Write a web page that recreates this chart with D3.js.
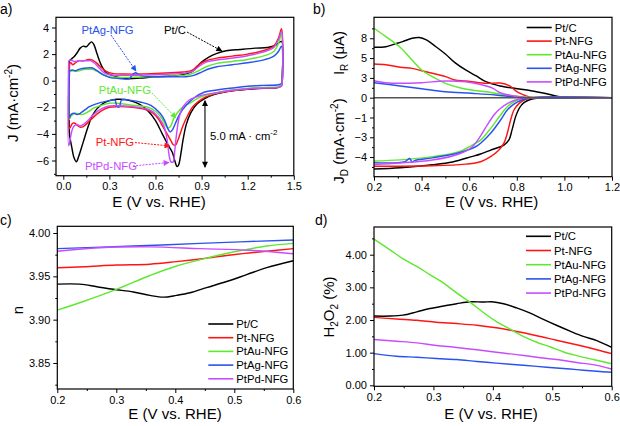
<!DOCTYPE html>
<html><head><meta charset="utf-8">
<script src="https://cdn.jsdelivr.net/npm/d3@7"></script>
<style>body{margin:0;background:#fff} svg{display:block} text{font-family:"Liberation Sans",Arial,sans-serif}</style>
</head><body><svg id="c" width="620" height="426"></svg>
<script>
const seriesNames = ["Pt/C","Pt-NFG","PtAu-NFG","PtAg-NFG","PtPd-NFG"];
const seriesColors = ["#000000","#ff1414","#5ee830","#2a52ee","#c84cff"];

// ---- a) cyclic voltammograms [E (V), J (mA cm-2)]
const cvPtC = [[0.04,1.5],[0.05,1.6],[0.07,1.8],[0.09,2.1],[0.11,2.45],[0.13,2.6],[0.15,2.55],[0.17,2.8],[0.185,2.92],[0.2,2.7],[0.22,2.0],[0.25,1.1],[0.28,0.6],[0.32,0.4],[0.36,0.25],[0.42,0.15],[0.5,0.2],[0.6,0.3],[0.7,0.35],[0.78,0.45],[0.84,0.7],[0.9,1.4],[0.95,1.8],[1.0,2.05],[1.06,2.25],[1.15,2.35],[1.25,2.45],[1.33,2.5],[1.38,2.65],[1.42,2.95],[1.425,0.5],[1.42,-0.3],[1.4,-0.5],[1.35,-0.55],[1.25,-0.6],[1.15,-0.7],[1.05,-0.85],[0.98,-1.05],[0.92,-1.35],[0.87,-1.75],[0.83,-2.4],[0.8,-3.3],[0.78,-4.4],[0.765,-5.5],[0.75,-6.35],[0.74,-6.45],[0.725,-6.0],[0.71,-5.4],[0.68,-4.8],[0.64,-3.9],[0.6,-3.0],[0.55,-2.25],[0.5,-1.8],[0.45,-1.55],[0.4,-1.42],[0.35,-1.4],[0.3,-1.5],[0.26,-1.7],[0.22,-2.1],[0.19,-2.6],[0.16,-3.5],[0.13,-4.6],[0.1,-5.7],[0.085,-6.1],[0.07,-5.8],[0.055,-5.0],[0.045,-4.4],[0.04,-4.0],[0.04,1.5]];
const cvPtNFG = [[0.04,1.3],[0.05,1.35],[0.06,1.2],[0.08,1.35],[0.1,1.5],[0.13,1.5],[0.15,1.55],[0.17,1.6],[0.19,1.55],[0.22,1.3],[0.25,0.95],[0.28,0.7],[0.32,0.55],[0.4,0.5],[0.5,0.5],[0.6,0.55],[0.7,0.6],[0.78,0.65],[0.84,0.8],[0.88,1.2],[0.93,1.5],[1.0,1.7],[1.1,1.85],[1.2,2.0],[1.3,2.25],[1.37,2.6],[1.4,3.2],[1.42,3.9],[1.425,0],[1.42,-0.4],[1.4,-0.5],[1.3,-0.55],[1.2,-0.62],[1.1,-0.75],[1.0,-0.95],[0.93,-1.2],[0.88,-1.55],[0.84,-2.0],[0.81,-2.6],[0.78,-3.35],[0.76,-4.0],[0.745,-4.5],[0.73,-4.85],[0.715,-4.8],[0.7,-4.5],[0.68,-4.1],[0.65,-3.5],[0.62,-2.9],[0.58,-2.4],[0.53,-2.15],[0.45,-2.0],[0.35,-1.95],[0.3,-2.0],[0.25,-2.25],[0.2,-2.7],[0.16,-3.15],[0.13,-3.45],[0.11,-3.5],[0.09,-3.35],[0.075,-3.2],[0.06,-3.2],[0.05,-3.4],[0.04,-3.6],[0.04,1.3]];
const cvPtAu = [[0.04,0.7],[0.06,0.75],[0.08,0.7],[0.1,0.75],[0.15,0.85],[0.19,0.85],[0.22,0.7],[0.26,0.45],[0.3,0.3],[0.4,0.25],[0.5,0.28],[0.6,0.3],[0.7,0.35],[0.78,0.4],[0.83,0.5],[0.88,0.75],[0.93,1.05],[1.0,1.3],[1.1,1.45],[1.2,1.6],[1.3,1.85],[1.37,2.2],[1.4,2.8],[1.42,3.5],[1.425,0],[1.42,-0.3],[1.4,-0.45],[1.3,-0.5],[1.2,-0.58],[1.1,-0.7],[1.0,-0.9],[0.9,-1.2],[0.82,-1.7],[0.78,-1.95],[0.74,-2.45],[0.715,-2.95],[0.7,-3.4],[0.685,-3.55],[0.67,-3.45],[0.645,-2.9],[0.6,-2.3],[0.55,-2.0],[0.45,-1.85],[0.35,-1.7],[0.3,-1.7],[0.25,-1.85],[0.2,-2.05],[0.16,-2.35],[0.12,-2.55],[0.1,-2.5],[0.08,-2.45],[0.06,-2.55],[0.045,-2.75],[0.04,-2.9],[0.04,0.7]];
const cvPtAg = [[0.04,0.75],[0.06,0.8],[0.08,0.75],[0.1,0.85],[0.15,0.95],[0.19,0.95],[0.22,0.75],[0.26,0.45],[0.3,0.25],[0.38,0.15],[0.43,0.15],[0.45,0.45],[0.47,0.6],[0.5,0.4],[0.6,0.3],[0.7,0.3],[0.8,0.3],[0.85,0.4],[0.9,0.65],[0.95,0.9],[1.0,1.05],[1.1,1.2],[1.2,1.35],[1.3,1.55],[1.37,1.85],[1.4,2.2],[1.42,2.6],[1.425,0],[1.42,-0.2],[1.4,-0.3],[1.3,-0.35],[1.2,-0.42],[1.1,-0.55],[1.0,-0.7],[0.92,-0.85],[0.85,-1.3],[0.8,-1.85],[0.76,-2.45],[0.73,-3.2],[0.71,-3.7],[0.695,-3.85],[0.68,-3.6],[0.66,-3.0],[0.63,-2.45],[0.57,-1.85],[0.5,-1.6],[0.45,-1.5],[0.38,-1.45],[0.365,-1.95],[0.35,-1.95],[0.335,-1.45],[0.3,-1.5],[0.24,-1.65],[0.2,-1.8],[0.17,-1.95],[0.14,-2.2],[0.11,-2.45],[0.09,-2.55],[0.07,-2.45],[0.055,-2.5],[0.045,-2.65],[0.04,-2.8],[0.04,0.75]];
const cvPtPd = [[0.035,1.5],[0.05,1.55],[0.07,1.45],[0.1,1.5],[0.15,1.5],[0.18,1.5],[0.2,1.35],[0.23,1.0],[0.26,0.65],[0.3,0.45],[0.4,0.4],[0.5,0.42],[0.6,0.45],[0.7,0.5],[0.78,0.55],[0.84,0.7],[0.88,1.05],[0.93,1.4],[1.0,1.55],[1.1,1.7],[1.2,1.88],[1.3,2.15],[1.37,2.5],[1.4,3.1],[1.42,3.7],[1.425,0],[1.42,-0.4],[1.4,-0.5],[1.3,-0.55],[1.2,-0.6],[1.1,-0.72],[1.0,-0.9],[0.9,-1.1],[0.82,-1.45],[0.78,-1.95],[0.755,-2.7],[0.735,-4.2],[0.725,-5.3],[0.715,-6.1],[0.7,-6.1],[0.69,-5.7],[0.675,-4.4],[0.66,-3.6],[0.64,-3.1],[0.6,-2.5],[0.55,-2.15],[0.45,-1.95],[0.35,-1.88],[0.3,-1.9],[0.25,-2.1],[0.2,-2.5],[0.16,-3.0],[0.13,-3.3],[0.11,-3.4],[0.09,-3.3],[0.07,-3.4],[0.055,-3.8],[0.045,-4.4],[0.035,-4.9],[0.035,1.5]];

// ---- b) RRDE: ring current I_R (uA) and disk current J_D (mA cm-2)
const irPtC = [[0.2,6.87],[0.25,6.95],[0.285,7.3],[0.32,7.64],[0.36,8.1],[0.39,8.2],[0.42,7.87],[0.46,6.95],[0.5,5.96],[0.54,4.78],[0.585,3.78],[0.63,2.96],[0.67,2.18],[0.7,1.87],[0.73,1.6],[0.79,1.28],[0.86,0.95],[0.93,0.5],[0.98,0.14],[1.02,0],[1.2,0]];
const irPtNFG = [[0.2,4.6],[0.25,4.5],[0.31,4.15],[0.36,4.0],[0.4,3.68],[0.445,3.33],[0.5,2.87],[0.54,2.41],[0.585,2.28],[0.64,2.05],[0.68,1.95],[0.73,2.0],[0.77,1.6],[0.8,0.82],[0.83,0.37],[0.86,0.05],[0.9,0],[1.2,0]];
const irPtAu = [[0.2,9.47],[0.25,8.32],[0.31,6.87],[0.36,5.14],[0.4,3.78],[0.445,2.87],[0.5,1.96],[0.56,1.36],[0.61,1.05],[0.67,0.82],[0.71,0.6],[0.79,0.23],[0.84,0.05],[0.88,0],[1.2,0]];
const irPtAg = [[0.2,2.05],[0.31,1.6],[0.4,1.23],[0.5,0.82],[0.61,0.6],[0.71,0.37],[0.79,0.1],[0.84,0],[1.2,0]];
const irPtPd = [[0.2,2.32],[0.25,2.05],[0.31,1.96],[0.4,2.05],[0.5,2.28],[0.585,2.18],[0.64,1.87],[0.7,1.28],[0.73,0.68],[0.79,0.23],[0.83,0.05],[0.87,0],[1.2,0]];
const jdPtC = [[0.2,-5.05],[0.31,-4.95],[0.445,-4.75],[0.53,-4.55],[0.61,-4.17],[0.648,-3.98],[0.7,-3.65],[0.746,-3.35],[0.767,-2.99],[0.78,-2.28],[0.795,-1.34],[0.81,-0.75],[0.83,-0.35],[0.86,-0.11],[0.9,-0.02],[1.0,0],[1.2,0]];
const jdPtNFG = [[0.2,-4.85],[0.445,-4.82],[0.585,-4.7],[0.648,-4.53],[0.69,-4.17],[0.725,-3.7],[0.746,-3.22],[0.76,-2.52],[0.774,-1.58],[0.788,-0.87],[0.81,-0.4],[0.837,-0.11],[0.87,0],[1.2,0]];
const jdPtAu = [[0.2,-4.48],[0.31,-4.4],[0.445,-4.17],[0.557,-3.82],[0.627,-3.22],[0.648,-3.0],[0.69,-2.17],[0.732,-1.22],[0.76,-0.64],[0.788,-0.3],[0.83,-0.05],[0.87,0],[1.2,0]];
const jdPtAg = [[0.2,-4.6],[0.33,-4.52],[0.35,-4.3],[0.36,-4.55],[0.37,-4.45],[0.445,-4.26],[0.557,-3.9],[0.627,-3.47],[0.648,-3.22],[0.69,-2.52],[0.732,-1.58],[0.76,-0.87],[0.788,-0.46],[0.816,-0.2],[0.86,0],[1.2,0]];
const jdPtPd = [[0.2,-4.72],[0.31,-4.62],[0.445,-4.41],[0.557,-3.98],[0.613,-3.47],[0.648,-2.7],[0.676,-1.93],[0.704,-1.22],[0.732,-0.75],[0.76,-0.42],[0.788,-0.2],[0.83,-0.03],[0.87,0],[1.2,0]];
const irTicks = [0, 2.7, 5.4, 8.1];
const jdTicks = [-1.4, -2.8, -4.2];

// ---- c) electron transfer number n
const nPtC = [[0.2,3.941],[0.238,3.941],[0.267,3.938],[0.295,3.935],[0.329,3.932],[0.357,3.928],[0.38,3.926],[0.402,3.928],[0.425,3.931],[0.453,3.937],[0.487,3.944],[0.521,3.952],[0.555,3.96],[0.6,3.968]];
const nPtNFG = [[0.2,3.96],[0.244,3.961],[0.3,3.963],[0.357,3.964],[0.402,3.967],[0.453,3.971],[0.498,3.975],[0.555,3.979],[0.6,3.982]];
const nPtAu = [[0.2,3.911],[0.244,3.921],[0.3,3.935],[0.357,3.951],[0.402,3.962],[0.453,3.971],[0.498,3.978],[0.555,3.985],[0.6,3.988]];
const nPtAg = [[0.2,3.982],[0.329,3.985],[0.442,3.988],[0.6,3.992]];
const nPtPd = [[0.2,3.979],[0.272,3.983],[0.357,3.984],[0.442,3.982],[0.527,3.98],[0.6,3.976]];

// ---- d) H2O2 yield (%)
const hPtC = [[0.2,2.12],[0.227,2.12],[0.249,2.15],[0.272,2.25],[0.294,2.35],[0.317,2.43],[0.339,2.5],[0.362,2.56],[0.384,2.55],[0.398,2.56],[0.418,2.5],[0.44,2.37],[0.463,2.21],[0.485,2.02],[0.507,1.84],[0.53,1.66],[0.552,1.5],[0.575,1.37],[0.6,1.16]];
const hPtNFG = [[0.2,2.08],[0.238,2.03],[0.272,1.99],[0.305,1.93],[0.339,1.89],[0.373,1.84],[0.406,1.76],[0.44,1.65],[0.474,1.52],[0.507,1.38],[0.541,1.24],[0.575,1.09],[0.6,0.97]];
const hPtAu = [[0.2,4.48],[0.227,4.15],[0.249,3.87],[0.272,3.64],[0.294,3.39],[0.317,3.13],[0.339,2.83],[0.362,2.54],[0.384,2.23],[0.406,1.95],[0.429,1.72],[0.451,1.5],[0.474,1.32],[0.496,1.18],[0.519,1.02],[0.541,0.91],[0.569,0.79],[0.6,0.66]];
const hPtAg = [[0.2,0.97],[0.238,0.89],[0.272,0.86],[0.305,0.82],[0.339,0.79],[0.373,0.73],[0.406,0.68],[0.44,0.63],[0.474,0.58],[0.507,0.53],[0.541,0.48],[0.575,0.43],[0.6,0.4]];
const hPtPd = [[0.2,1.4],[0.238,1.35],[0.272,1.3],[0.305,1.22],[0.339,1.16],[0.373,1.09],[0.406,1.01],[0.44,0.94],[0.474,0.86],[0.507,0.79],[0.541,0.7],[0.575,0.61],[0.6,0.5]];

const svg = d3.select("#c");
const FONT = '"Liberation Sans",Arial,sans-serif';
const TITLE = 15;
const defs = svg.append("defs");
seriesColors.forEach((c,i)=>{
  defs.append("marker").attr("id","ah"+i).attr("viewBox","0 0 10 10").attr("refX",9).attr("refY",5)
    .attr("markerWidth",7).attr("markerHeight",6).attr("markerUnits","userSpaceOnUse").attr("orient","auto-start-reverse")
    .append("path").attr("d","M0,0L10,5L0,10z").attr("fill",c);
});

function drawAxes(box, x, y, xt, xm, yt, ym, xf, yf){
  const g = svg.append("g");
  g.append("g").attr("transform",`translate(0,${box.b})`)
    .call(d3.axisBottom(x).tickValues(xt).tickFormat(xf).tickSize(4).tickPadding(3));
  g.append("g").attr("transform",`translate(0,${box.b})`)
    .call(d3.axisBottom(x).tickValues(xm).tickFormat("").tickSize(2));
  g.append("g").attr("transform",`translate(${box.l},0)`)
    .call(d3.axisLeft(y).tickValues(yt).tickFormat(yf).tickSize(4).tickPadding(3));
  g.append("g").attr("transform",`translate(${box.l},0)`)
    .call(d3.axisLeft(y).tickValues(ym).tickFormat("").tickSize(2));
  g.selectAll(".domain").remove();
  g.selectAll(".tick line").attr("stroke","#000").attr("stroke-width",1);
  g.selectAll("text").attr("font-size",11).attr("font-family",FONT).attr("fill","#000");
  return g;
}
function frame(box){
  svg.append("rect").attr("x",box.l).attr("y",box.t).attr("width",box.r-box.l).attr("height",box.b-box.t)
    .attr("fill","none").attr("stroke","#000").attr("stroke-width",1.2);
}
function xTitle(cx, y){
  svg.append("text").attr("x",cx).attr("y",y).attr("text-anchor","middle").attr("font-size",TITLE).text("E (V vs. RHE)");
}
function legend(x0, y0, dy){
  seriesNames.forEach((n,i)=>{
    svg.append("line").attr("x1",x0).attr("x2",x0+25).attr("y1",y0+i*dy).attr("y2",y0+i*dy)
      .attr("stroke",seriesColors[i]).attr("stroke-width",1.6);
    svg.append("text").attr("x",x0+28).attr("y",y0+i*dy+4).attr("font-size",11.3).text(n);
  });
}
function curves(sets, x, y){
  const ln = d3.line().x(d=>x(d[0])).y(d=>y(d[1])).curve(d3.curveCatmullRom.alpha(0.5));
  sets.forEach((s,i)=>{
    svg.append("path").attr("d",ln(s)).attr("fill","none").attr("stroke",seriesColors[i])
      .attr("stroke-width",1.45).attr("stroke-linejoin","round");
  });
}
function panelLabel(t,x,y){ svg.append("text").attr("x",x).attr("y",y).attr("font-size",14).text(t); }

// ===== Panel a
{
  const box = {l:56, r:293.8, t:17.3, b:175.7};
  const x = d3.scaleLinear().domain([0,1.5]).range([63.3,293.8]);
  const y = d3.scaleLinear().domain([0,4]).range([80.7,27.5]);
  curves([cvPtC,cvPtNFG,cvPtAu,cvPtAg,cvPtPd], x, y);
  frame(box);
  drawAxes(box, x, y, [0,0.3,0.6,0.9,1.2,1.5], [0.15,0.45,0.75,1.05,1.35], [-6,-4,-2,0,2,4], [-7,-5,-3,-1,1,3], d3.format(".1f"), d3.format("d"));
  xTitle(159, 207);
  svg.append("text").attr("transform","translate(18,103) rotate(-90)").attr("text-anchor","middle").attr("font-size",TITLE)
    .html('J (mA·cm<tspan dy="-6" font-size="10">-2</tspan><tspan dy="6">)</tspan>');
  const annots = [
    {t:"Pt/C", c:0, tx:0.727, ty:3.81, a:[0.805,3.66,1.032,2.23]},
    {t:"PtAg-NFG", c:3, tx:0.288, ty:3.81, a:[0.31,3.44,0.473,0.73]},
    {t:"PtAu-NFG", c:2, tx:0.401, ty:-0.70, a:[0.577,-0.92,0.733,-2.8]},
    {t:"Pt-NFG", c:1, tx:0.336, ty:-4.61, a:[0.466,-4.65,0.694,-4.91]},
    {t:"PtPd-NFG", c:4, tx:0.31, ty:-6.45, a:[0.453,-6.41,0.688,-6.15]}
  ];
  annots.forEach(o=>{
    svg.append("text").attr("x",x(o.tx)).attr("y",y(o.ty)+4).attr("text-anchor","middle").attr("font-size",11.3)
      .attr("fill",seriesColors[o.c]).text(o.t);
    svg.append("line").attr("x1",x(o.a[0])).attr("y1",y(o.a[1])).attr("x2",x(o.a[2])).attr("y2",y(o.a[3]))
      .attr("stroke",seriesColors[o.c]).attr("stroke-width",1).attr("stroke-dasharray","2,1.2")
      .attr("marker-end",`url(#ah${o.c})`);
  });
  svg.append("line").attr("x1",x(0.922)).attr("x2",x(0.922)).attr("y1",y(-1.5)).attr("y2",y(-6.5))
    .attr("stroke","#000").attr("stroke-width",1.1).attr("marker-start","url(#ah0)").attr("marker-end","url(#ah0)");
  svg.append("text").attr("x",x(0.955)).attr("y",y(-4.16)+4).attr("font-size",11.3)
    .html('5.0 mA · cm<tspan dy="-5" font-size="8">-2</tspan>');
  panelLabel("a)",0,14);
}

// ===== Panel b
{
  const box = {l:374, r:612, t:17.3, b:176.7};
  const x = d3.scaleLinear().domain([0.2,1.2]).range([374,612]);
  const yR = d3.scaleLinear().domain([0,10.96]).range([97.7,17.3]);
  const yD = d3.scaleLinear().domain([-5.59,0]).range([176.7,97.7]);
  curves([irPtC,irPtNFG,irPtAu,irPtAg,irPtPd], x, yR);
  curves([jdPtC,jdPtNFG,jdPtAu,jdPtAg,jdPtPd], x, yD);
  svg.append("line").attr("x1",x(0.2)).attr("x2",x(1.2)).attr("y1",yR(0)).attr("y2",yR(0)).attr("stroke","#555").attr("stroke-width",1.6);
  frame(box);
  const g = svg.append("g");
  g.append("g").attr("transform",`translate(0,${box.b})`).call(d3.axisBottom(x).tickValues([0.2,0.4,0.6,0.8,1.0,1.2]).tickFormat(d3.format(".1f")).tickSize(4).tickPadding(3));
  g.append("g").attr("transform",`translate(0,${box.b})`).call(d3.axisBottom(x).tickValues([0.3,0.5,0.7,0.9,1.1]).tickFormat("").tickSize(2));
  g.append("g").attr("transform",`translate(${box.l},0)`).call(d3.axisLeft(yR).tickValues(irTicks).tickFormat(d3.format(".0f")).tickSize(4).tickPadding(3));
  g.append("g").attr("transform",`translate(${box.l},0)`).call(d3.axisLeft(yR).tickValues([1.35,4.05,6.75,9.45]).tickFormat("").tickSize(2));
  g.append("g").attr("transform",`translate(${box.l},0)`).call(d3.axisLeft(yD).tickValues(jdTicks).tickFormat(d3.format(".0f")).tickSize(4).tickPadding(3));
  g.append("g").attr("transform",`translate(${box.l},0)`).call(d3.axisLeft(yD).tickValues([-0.7,-2.1,-3.5,-4.9]).tickFormat("").tickSize(2));
  g.selectAll(".domain").remove();
  g.selectAll(".tick line").attr("stroke","#000");
  g.selectAll("text").attr("font-size",11).attr("font-family",FONT).attr("fill","#000");
  xTitle(491.7, 207);
  svg.append("text").attr("transform","translate(344,53) rotate(-90)").attr("text-anchor","middle").attr("font-size",TITLE)
    .html('I<tspan dy="4" font-size="10">R</tspan><tspan dy="-4"> (μA)</tspan>');
  svg.append("text").attr("transform","translate(344,141) rotate(-90)").attr("text-anchor","middle").attr("font-size",TITLE)
    .html('J<tspan dy="4" font-size="10">D</tspan><tspan dy="-4"> (mA·cm</tspan><tspan dy="-6" font-size="10">-2</tspan><tspan dy="6">)</tspan>');
  legend(526.7, 27.5, 13.6);
  panelLabel("b)",313,14);
}

// ===== Panel c
{
  const box = {l:57.3, r:293.3, t:226.3, b:389};
  const x = d3.scaleLinear().domain([0.2,0.6]).range([57.3,293.3]);
  const y = d3.scaleLinear().domain([3.85,4.0]).range([363,233]);
  curves([nPtC,nPtNFG,nPtAu,nPtAg,nPtPd], x, y);
  frame(box);
  drawAxes(box, x, y, [0.2,0.3,0.4,0.5,0.6], [0.25,0.35,0.45,0.55], [3.85,3.9,3.95,4.0], [3.825,3.875,3.925,3.975], d3.format(".1f"), d3.format(".2f"));
  xTitle(175, 419);
  svg.append("text").attr("transform","translate(23,310) rotate(-90)").attr("text-anchor","middle").attr("font-size",TITLE).text("n");
  legend(208.3, 324, 13.7);
  panelLabel("c)",0,225);
}

// ===== Panel d
{
  const box = {l:374, r:611.7, t:227, b:386.3};
  const x = d3.scaleLinear().domain([0.2,0.6]).range([374,611.7]);
  const y = d3.scaleLinear().domain([0,4]).range([385.3,254.7]);
  curves([hPtC,hPtNFG,hPtAu,hPtAg,hPtPd], x, y);
  frame(box);
  drawAxes(box, x, y, [0.2,0.3,0.4,0.5,0.6], [0.25,0.35,0.45,0.55], [0,1,2,3,4], [0.5,1.5,2.5,3.5,4.5], d3.format(".1f"), d3.format(".2f"));
  xTitle(491, 419);
  svg.append("text").attr("transform","translate(334,307) rotate(-90)").attr("text-anchor","middle").attr("font-size",TITLE)
    .html('H<tspan dy="4" font-size="10">2</tspan><tspan dy="-4">O</tspan><tspan dy="4" font-size="10">2</tspan><tspan dy="-4"> (%)</tspan>');
  legend(526, 236.3, 14.2);
  panelLabel("d)",315,225);
}
</script></body></html>
